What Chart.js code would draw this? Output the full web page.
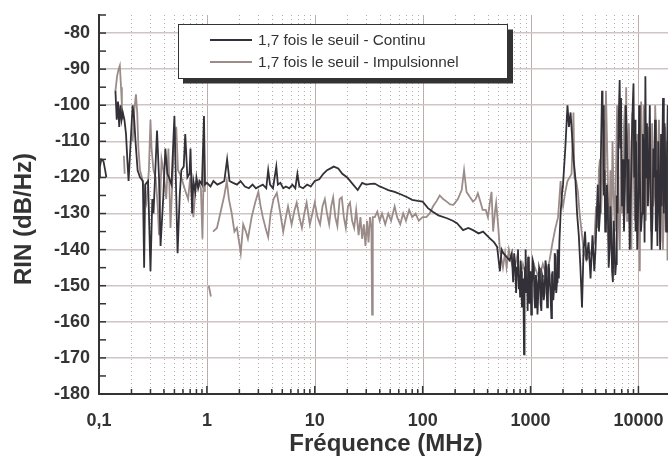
<!DOCTYPE html>
<html>
<head>
<meta charset="utf-8">
<script src="https://cdn.jsdelivr.net/npm/chart.js@4.4.1/dist/chart.umd.min.js"></script>
<style>
    body { margin: 0; background: #fff; }
    canvas { display: block; }
</style>
</head>
<body>
<canvas id="rinChart" width="668" height="458"></canvas>
<script>
// Fréquence (MHz) / RIN (dB/Hz) - 1,7 fois le seuil - Continu
const contFreq = [0.100, 0.102, 0.105, 0.110, 0.114, 0.117, 0.130,
    0.142, 0.146, 0.150, 0.154, 0.158, 0.162, 0.166, 0.172, 0.178, 0.183, 0.188, 0.205, 0.212, 0.218,
    0.228, 0.240, 0.255, 0.262, 0.268, 0.285, 0.300, 0.312, 0.320, 0.345, 0.360, 0.372, 0.395, 0.412,
    0.430, 0.445, 0.470, 0.500, 0.520, 0.535, 0.560, 0.580, 0.610, 0.630, 0.660, 0.690, 0.705, 0.730,
    0.750, 0.780, 0.800, 0.830, 0.860, 0.900, 0.940, 0.960,
    1.00, 1.08, 1.15, 1.25, 1.35, 1.45, 1.54, 1.62, 1.75, 1.90, 2.05, 2.25, 2.45, 2.65, 2.85, 3.05,
    3.30, 3.55, 3.70, 3.85, 4.10, 4.40, 4.55, 4.80, 5.10, 5.40, 5.80, 6.20, 6.60, 6.90, 7.20, 7.80,
    8.50, 9.20, 10.0, 11.0, 12.0, 13.0, 14.0, 15.0, 16.5, 18.0, 20.0, 22.0, 25.0, 27.5, 30, 33, 36,
    40, 44, 48, 55, 64, 72, 80, 90, 100, 112, 124, 140, 168, 190, 208, 237, 265, 293, 330, 363, 420,
    460, 490, 520, 540, 560, 600, 640, 670,
    690, 705, 720, 735, 750, 765, 780, 790, 800, 810, 820, 832, 845, 858, 870, 880, 890, 900, 915,
    930, 940, 950, 965, 980, 990, 1000, 1015, 1030, 1050, 1070, 1085, 1100, 1120, 1140, 1160, 1180,
    1200, 1220, 1240, 1260, 1280, 1300, 1325, 1350, 1375, 1400, 1425, 1450, 1475, 1500, 1530, 1560,
    1580, 1600, 1625, 1650, 1675, 1700, 1730, 1760, 1780, 1800, 1830, 1850,
    1900, 1950, 2000, 2100, 2200, 2270, 2350, 2420, 2500, 2600, 2700, 2800, 2900, 3000, 3100, 3200,
    3300, 3450, 3600, 3750, 3900,
    4000, 4100, 4200, 4300, 4400, 4500, 4600, 4650, 4700, 4780, 4850, 4920, 5000, 5100, 5200, 5300,
    5400, 5500, 5600, 5700, 5800, 5900, 6000, 6100, 6200, 6300, 6400, 6550, 6700, 6800, 6900, 7050,
    7200, 7350, 7500, 7650, 7800, 7950, 8100, 8300, 8500, 8750, 9000, 9150, 9300, 9400, 9500, 9750,
    10000, 10150, 10300, 10550, 10800, 11000, 11200, 11400, 11600, 11800, 12000, 12250, 12500, 12750,
    13000, 13250, 13500, 13750, 14000, 14250, 14500, 14750, 15000, 15300, 15600, 15900, 16200, 16400,
    16600, 16900, 17200, 17500, 17800, 18100, 18400, 18700];
const contRin = [-120, -117, -115, -115.5, -118, -120, null,
    -96, -104, -99, -106, -100, -104, -102, -104, -108, -115, -121, -100, -104, -110,
    -118, -120, -121, -145, -122, -121, -146, -126, -130, -107, -120, -139, -125, -112,
    -119, -120, -122, -103, -125, -141, -125, -118, -117, -108, -120, -119, -112, -130,
    -121, -124, -120, -123, -121, -122, -103, -122,
    -121.5, -122.5, -121, -122, -121.5, -121, -115, -121, -121.5, -122, -121, -122.5, -123, -122, -123, -122.5,
    -122, -123, -118, -122, -123, -117, -122, -121.5, -123, -122.5, -123, -122, -123, -119, -122.5, -123,
    -122, -122.5, -121, -120.5, -119, -118, -117.5, -117, -117.5, -119, -120, -121.5, -123.5, -121.5, -122, -121.8, -121.7,
    -122.5, -123, -123.5, -124, -124.8, -125.5, -126.2, -126.5, -126.7, -128.5, -129.5, -130.5, -131.3, -132, -132.7, -134.6, -134, -134.6, -135.5, -135, -136.9,
    -138, -139.2, -146, -140, -141, -142, -143, -141,
    -149, -141, -144, -152, -145, -140, -151, -147, -153, -143, -146, -156, -155, -148, -169, -150, -145, -140, -152,
    -148, -157, -142, -150, -155, -146, -147, -158, -150, -143, -144, -153, -156, -147, -149, -158, -152,
    -145, -146, -155, -157, -147, -148, -154, -152, -143, -145, -156, -153, -144, -147, -152, -159,
    -147, -146, -154, -151, -141, -142, -152, -149, -140, -145, -148, -138,
    -130, -125, -122, -112, -100, -106, -102, -108, -115, -120, -130, -136, -145, -156, -140, -135,
    -143, -138, -148, -136, -146,
    -140, -131, -122, -135, -130, -112, -96, -104, -100, -125, -118, -135, -134, -122, -128, -145,
    -140, -128, -135, -146, -149, -132, -138, -147, -144, -125, -130, -105, -93, -112, -98, -128,
    -115, -135, -123, -100, -108, -130, -115, -140, -125, -105, -94, -120, -104, -135, -110, -140,
    -125, -100, -118, -135, -130, -108, -112, -138, -92, -120, -105, -128, -118, -100,
    -126, -140, -131, -112, -120, -104, -135, -118, -139, -110, -125, -140, -108, -128,
    -115, -98, -130, -105, -120, -135, -114, -100];

// 1,7 fois le seuil - Impulsionnel
const impFreq = [0.142, 0.147, 0.152, 0.156, 0.160, 0.163, 0.166, 0.168, 0.170, 0.173, 0.190,
    0.205, 0.213, 0.220, 0.226, 0.232, 0.240, 0.250, 0.262, 0.275, 0.290, 0.300, 0.307, 0.320, 0.335,
    0.350, 0.360, 0.370, 0.380, 0.395, 0.420, 0.440, 0.460, 0.480, 0.500, 0.520, 0.540, 0.580, 0.620,
    0.670, 0.700, 0.750, 0.790, 0.830, 0.880, 0.910, 0.940, 0.960, 0.990, 1.04, 1.09, 1.11,
    1.14, 1.24, 1.33, 1.45, 1.53, 1.60, 1.70, 1.80, 1.90, 2.06, 2.17, 2.30, 2.40, 2.60, 2.80, 3.00,
    3.15, 3.30, 3.50, 3.70, 3.90, 4.15, 4.45, 4.80, 5.10, 5.40, 5.65, 6.10, 6.50, 6.80, 7.20, 7.60,
    8.00, 8.40, 9.00, 9.50, 10.0, 10.6, 11.2, 11.8, 12.4, 13.0, 13.6, 14.2, 14.8, 15.5, 16.2, 17.0,
    17.8, 18.6, 19.4, 20.3, 21.2, 22.2, 23.2, 24.2, 25.5, 26.5, 27.5, 28.5, 29.5, 30.5, 31.5, 32.5,
    33.5, 34.0, 34.5, 36, 38, 40, 42, 45, 48, 51, 55, 58, 62, 66, 70, 75, 80, 86, 92, 100, 108, 116,
    125, 135, 144, 155, 167, 180, 193, 212, 230, 242, 255, 275, 293, 310, 325, 345, 360, 385, 403,
    420, 435, 450, 470, 480, 500, 520, 555, 580, 600, 630, 660, 700, 750, 800, 850, 900, 950, 1000,
    1100, 1200, 1300, 1400, 1500, 1600, 1700, 1800, 1900, 1950, 2000, 2100, 2200, 2300, 2400, 2500,
    2550, 2650, 2750, 2850, 2950, 3100, 3300, 3600,
    3900, 4050, 4200, 4300, 4400, 4500, 4600, 4700, 4800, 4900, 5000, 5100, 5200, 5300, 5400, 5500,
    5600, 5750, 5900, 6050, 6200, 6350, 6500, 6700, 6900, 7050, 7200, 7350, 7500, 7600, 7700, 7850,
    8000, 8150, 8300, 8450, 8600, 8800, 9000, 9250, 9500, 9750, 10000, 10150, 10300, 10450, 10600,
    10800, 11000, 11200, 11400, 11700, 12000, 12400, 12800, 13100, 13400, 13700, 14000, 14300, 14600,
    14800, 15000, 15500, 16000, 16250, 16500, 16850, 17200, 17400, 17600, 17900, 18200, 18400, 18600];
const impRin = [-96, -92, -90, -89, -95, -100, -104, null, -114, -119, null,
    -110, -101, -97, -102, -112, -118, -120, -124, -127, -118, -104, -112, -118, -120,
    -128, -136, -125, -115, -118, -126, -112, -134, -120, -110, -106, -118, -120, -123,
    -126, -120, -131, -122, -121, -123, -137, -113, -124, null, -150, -153, null,
    -135, -134, -130, -125, -121, -126, -130, -135, -134, -141, -133, -135, -137, -131, -127, -124,
    -128, -131, -134, -136.5, -130, -126, -124.3, -130, -135, -131, -128, -133, -129, -127, -131, -134,
    -130, -127, -133, -130, -127, -131, -133, -128, -126, -130, -133, -128, -125.5, -131, -133.5, -126,
    -125.5, -131, -134, -128, -127, -132, -134, -129, -136, -131, -137, -133, -139, -132, -138, -131,
    -134, -158, -131, -131, -129.5, -132, -130, -133, -130, -132, -128, -131, -133, -130, -132, -129, -131, -130, -132, -131, -131, -130,
    -128, -126.5, -125, -126, -126.7, -127.5, -127.6, -126, -123.5, -118, -124, -125.5, -126.7, -126, -124.4, -127, -129, -129, -131,
    -127, -124, -135, -129, -127, -133, -140, -145, -141, -145, -140, -143, -146, -142, -148, -144, -147, -143, -149,
    -145, -148, -144, -147, -143, -138, -134, -131, -121, -126, -128, -124, -121, -120, -119, -102,
    -120, -121, -124, -130, -134, -140, -143, -141,
    -138, -128, -134, -118, -115, -130, -122, -110, -104, -125, -96, -108, -120, -138, -132, -118,
    -140, -110, -125, -135, -118, -100, -128, -140, -110, -130, -124, -106, -100, -120, -95, -132,
    -125, -105, -112, -138, -140, -102, -115, -132, -128, -108, -120, -135, -146, -112, -99,
    -130, -120, -100, -104, -132, -118, -106, -120, -135, -105, -128, -125, -100, -110,
    -132, -120, -104, -138, -118, -112, -140, -130, -106, -115, -135, -128, -110, -143];

// Axis ticks
const decades = [0.1, 1, 10, 100, 1000, 10000];
const xLabels = ['0,1', '1', '10', '100', '1000', '10000'];
const yTicks = [-180, -170, -160, -150, -140, -130, -120, -110, -100, -90, -80];

const darkColor = '#333137';
const greyColor = '#9b8c89';

// grid, inner ticks, axis titles and boxed legend
const framePlugin = {
    id: 'frame',
    beforeDraw: (chart) => {
        const { ctx, chartArea: { left, top, bottom }, scales: { x } } = chart;
        ctx.save();
        decades.forEach((d) => {
            for (let k = 1; k <= 9; k++) {
                const v = d * k;
                if (v > x.max) continue;
                const px = Math.round(x.getPixelForValue(v)) + 0.5;
                if (px <= left + 1) continue;
                ctx.beginPath();
                if (k === 1) {
                    ctx.setLineDash([]);
                    ctx.strokeStyle = '#bcaeab';
                } else {
                    ctx.setLineDash([1, 3]);
                    ctx.strokeStyle = '#b0adad';
                }
                ctx.lineWidth = 1;
                ctx.moveTo(px, top);
                ctx.lineTo(px, bottom);
                ctx.stroke();
            }
        });
        ctx.restore();
    },
    afterDatasetsDraw: (chart) => {
        const { ctx, chartArea: { left, top, bottom }, scales: { x, y } } = chart;
        ctx.save();
        ctx.strokeStyle = '#333';
        ctx.lineWidth = 1.5;
        // x ticks pointing up
        decades.forEach((d) => {
            for (let k = 1; k <= 9; k++) {
                const v = d * k;
                if (v > x.max) continue;
                const px = x.getPixelForValue(v);
                const len = k === 1 ? 8 : 5;
                ctx.beginPath();
                ctx.moveTo(px, bottom);
                ctx.lineTo(px, bottom - len);
                ctx.stroke();
            }
        });
        // y ticks pointing right, every 5 dB
        for (let v = -180; v <= y.max; v += 5) {
            const py = y.getPixelForValue(v);
            ctx.beginPath();
            ctx.moveTo(left, py);
            ctx.lineTo(left + 7, py);
            ctx.stroke();
        }

        // axis titles
        ctx.fillStyle = '#333';
        ctx.font = 'bold 24px "Liberation Sans", Arial, sans-serif';
        ctx.textAlign = 'center';
        ctx.textBaseline = 'middle';
        ctx.fillText('Fréquence (MHz)', 386, 444);
        ctx.translate(24, 219);
        ctx.rotate(-Math.PI / 2);
        ctx.fillText('RIN (dB/Hz)', 0, 0);
        ctx.restore();

        // legend box with shadow
        ctx.save();
        ctx.fillStyle = '#333';
        ctx.fillRect(183, 29.5, 330, 54);
        ctx.fillStyle = '#fff';
        ctx.fillRect(178, 24, 329, 54);
        ctx.strokeStyle = '#333';
        ctx.lineWidth = 1;
        ctx.strokeRect(178.5, 24.5, 329, 54);
        const items = [
            { text: '1,7 fois le seuil - Continu', color: darkColor, y: 40 },
            { text: '1,7 fois le seuil - Impulsionnel', color: greyColor, y: 62 }
        ];
        ctx.font = '15.3px "Liberation Sans", Arial, sans-serif';
        ctx.textAlign = 'left';
        ctx.textBaseline = 'middle';
        items.forEach((item) => {
            ctx.strokeStyle = item.color;
            ctx.lineWidth = 1.8;
            ctx.beginPath();
            ctx.moveTo(210, item.y);
            ctx.lineTo(252, item.y);
            ctx.stroke();
            ctx.fillStyle = '#333';
            ctx.fillText(item.text, 258, item.y + 1);
        });
        ctx.restore();
    }
};

const ctx = document.getElementById('rinChart').getContext('2d');
new Chart(ctx, {
    type: 'line',
    data: {
        datasets: [
            {
                label: '1,7 fois le seuil - Continu',
                data: contFreq.map((f, i) => ({ x: f, y: contRin[i] })),
                borderColor: darkColor,
                borderWidth: 1.8,
                pointRadius: 0,
                tension: 0,
                spanGaps: false,
                fill: false
            },
            {
                label: '1,7 fois le seuil - Impulsionnel',
                data: impFreq.map((f, i) => ({ x: f, y: impRin[i] })),
                borderColor: greyColor,
                borderWidth: 1.8,
                pointRadius: 0,
                tension: 0,
                spanGaps: false,
                fill: false
            }
        ]
    },
    options: {
        responsive: false,
        animation: false,
        devicePixelRatio: 1,
        layout: {
            padding: { top: 15, right: 0, left: 0, bottom: 0 }
        },
        plugins: {
            legend: { display: false },
            tooltip: { enabled: false }
        },
        scales: {
            x: {
                type: 'logarithmic',
                min: 0.1,
                max: 18800,
                afterBuildTicks: (scale) => {
                    scale.ticks = decades.map((v) => ({ value: v, major: true }));
                },
                afterFit: (scale) => {
                    scale.height = 64;
                    scale.paddingLeft = 0;
                    scale.paddingRight = 0;
                },
                grid: { display: false },
                border: { display: true, color: '#333', width: 2 },
                ticks: {
                    autoSkip: false,
                    maxRotation: 0,
                    padding: 8,
                    color: '#333',
                    font: { family: '"Liberation Sans", Arial, sans-serif', size: 18, weight: 'bold' },
                    callback: function(value) {
                        const i = decades.indexOf(value);
                        return i >= 0 ? xLabels[i] : '';
                    }
                }
            },
            y: {
                min: -180,
                max: -75,
                afterBuildTicks: (scale) => {
                    scale.ticks = yTicks.map((v) => ({ value: v }));
                },
                afterFit: (scale) => {
                    scale.width = 99;
                    scale.paddingTop = 0;
                    scale.paddingBottom = 0;
                },
                grid: { color: '#cfc5c4', lineWidth: 1.5, drawTicks: false },
                border: { display: true, color: '#333', width: 2 },
                ticks: {
                    padding: 9,
                    color: '#333',
                    font: { family: '"Liberation Sans", Arial, sans-serif', size: 18, weight: 'bold' }
                }
            }
        }
    },
    plugins: [framePlugin]
});
</script>
</body>
</html>
